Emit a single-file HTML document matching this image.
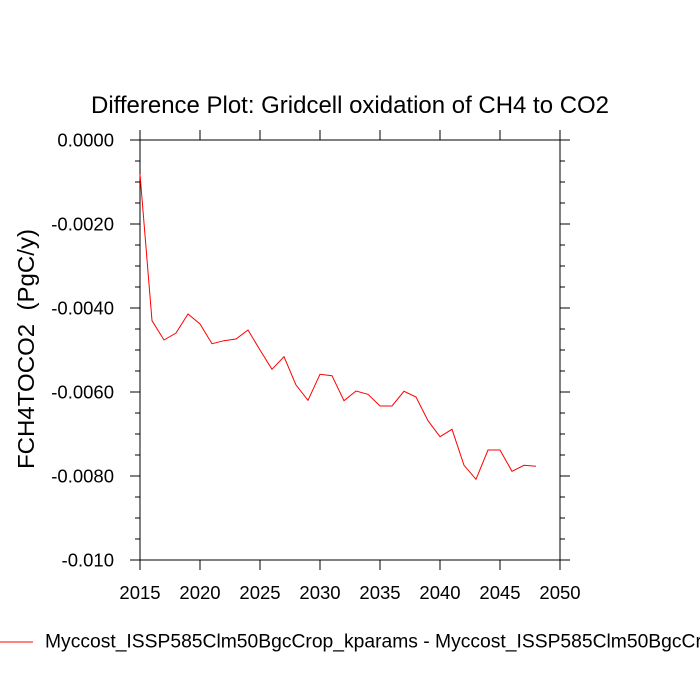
<!DOCTYPE html>
<html>
<head>
<meta charset="utf-8">
<style>
html,body{margin:0;padding:0;background:#fff;}
svg{display:block;}
text{font-family:"Liberation Sans",Arial,sans-serif;fill:#000;}
</style>
</head>
<body>
<svg width="700" height="700" viewBox="0 0 700 700" xmlns="http://www.w3.org/2000/svg">
<rect width="700" height="700" fill="#fff"/>
<!-- title -->
<text x="350" y="113" font-size="24" text-anchor="middle" textLength="518" lengthAdjust="spacingAndGlyphs">Difference Plot: Gridcell oxidation of CH4 to CO2</text>
<!-- y label -->
<text transform="translate(34,349) rotate(-90)" font-size="23" text-anchor="middle" textLength="240" lengthAdjust="spacingAndGlyphs" xml:space="preserve">FCH4TOCO2  (PgC/y)</text>

<!-- frame -->
<rect x="140" y="140" width="420" height="420" fill="none" stroke="#000" stroke-width="1"/>

<g stroke="#000" stroke-width="1" fill="none">
<path d="M140 560V570M200 560V570M260 560V570M320 560V570M380 560V570M440 560V570M500 560V570M560 560V570"/>
<path d="M140 140V130M200 140V130M260 140V130M320 140V130M380 140V130M440 140V130M500 140V130M560 140V130"/>
<path d="M140 140H130M140 224H130M140 308H130M140 392H130M140 476H130M140 560H130"/>
<path d="M560 140H570M560 224H570M560 308H570M560 392H570M560 476H570M560 560H570"/>
<path d="M140 161H135M140 182H135M140 203H135M140 245H135M140 266H135M140 287H135M140 329H135M140 350H135M140 371H135M140 413H135M140 434H135M140 455H135M140 497H135M140 518H135M140 539H135"/>
<path d="M560 161H565M560 182H565M560 203H565M560 245H565M560 266H565M560 287H565M560 329H565M560 350H565M560 371H565M560 413H565M560 434H565M560 455H565M560 497H565M560 518H565M560 539H565"/>
</g>

<!-- y tick labels -->
<g font-size="18.5" text-anchor="end">
<text x="114" y="146.5">0.0000</text>
<text x="114" y="230.5">-0.0020</text>
<text x="114" y="314.5">-0.0040</text>
<text x="114" y="398.5">-0.0060</text>
<text x="114" y="482.5">-0.0080</text>
<text x="114" y="566.5">-0.010</text>
</g>
<!-- x tick labels -->
<g font-size="18.5" text-anchor="middle">
<text x="140" y="599">2015</text>
<text x="200" y="599">2020</text>
<text x="260" y="599">2025</text>
<text x="320" y="599">2030</text>
<text x="380" y="599">2035</text>
<text x="440" y="599">2040</text>
<text x="500" y="599">2045</text>
<text x="560" y="599">2050</text>
</g>

<!-- data -->
<polyline fill="none" stroke="#ff0000" stroke-width="1" stroke-linejoin="miter"
points="140,174 152,320.7 164,340 176,333 188,314 200,324 212,343.7 224,340.7 236,339 248,330 260,350 272,369.3 284,356.7 296,385 308,400.3 320,374.3 332,375.7 344,400.7 356,391 368,394.3 380,406 392,406 404,391.3 416,397 428,420.7 440,436.7 452,429.3 464,465.3 476,479.3 488,450 500,450 512,471.3 524,465.3 536,466.3"/>

<!-- legend -->
<line x1="0" y1="642" x2="33" y2="642" stroke="#ff0000" stroke-width="1"/>
<text x="45" y="647.5" font-size="19.3">Myccost_ISSP585Clm50BgcCrop_kparams - Myccost_ISSP585Clm50BgcCrop</text>
</svg>
</body>
</html>
